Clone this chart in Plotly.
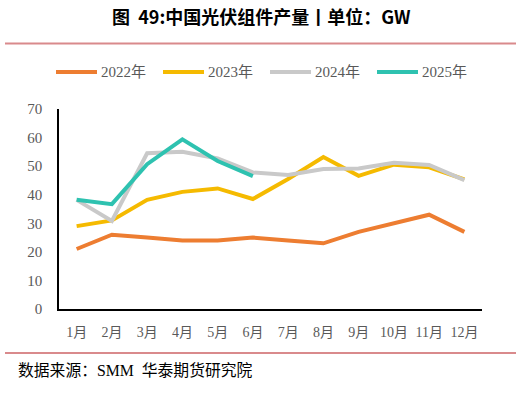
import plotly.graph_objects as go

months = ["1月", "2月", "3月", "4月", "5月", "6月", "7月", "8月", "9月", "10月", "11月", "12月"]
series_names = ["2022年", "2023年", "2024年", "2025年"]
v2022 = [21, 26, 25, 24, 24, 25, 24, 23, 27, 30, 33, 27]
v2023 = [29, 31, 38.2, 41, 42.2, 38.5, 45.5, 53.2, 46.6, 50.5, 49.6, 45.4]
v2024 = [38.2, 30.8, 54.5, 55, 52.7, 47.8, 46.9, 49, 49.2, 51.2, 50.4, 45.1]
v2025 = [38.2, 36.7, 50.7, 59.4, 51.8, 46.5]
colors = ["#ED7D31", "#F5BA00", "#C9C9C9", "#2EC2B0"]
y_ticks = [0, 10, 20, 30, 40, 50, 60, 70]

W, H = 521, 394
L, R, T, B = 59, 39, 109, 85

fig = go.Figure()
for name, vals, c in zip(series_names, [v2022, v2023, v2024, v2025], colors):
    fig.add_trace(go.Scatter(x=months[:len(vals)], y=vals, mode="lines", name=name,
                             line=dict(color=c, width=4), showlegend=False))

x_font = dict(family="Liberation Serif, Noto Sans CJK SC", size=14, color="#595959")
y_font = dict(family="Liberation Serif, Noto Sans CJK SC", size=15, color="#595959")
fig.update_layout(
    width=W, height=H,
    margin=dict(l=L, r=R, t=T, b=B),
    plot_bgcolor="white", paper_bgcolor="white",
    xaxis=dict(range=[-0.5, 11.5], showline=True, linecolor="black", linewidth=1.5, showgrid=False,
               ticks="", tickfont=x_font, ticklabelstandoff=9, fixedrange=True),
    yaxis=dict(range=[0, 70], tickvals=y_ticks, showline=True, linecolor="black", linewidth=1.5,
               showgrid=False, zeroline=False, ticks="", tickfont=y_font,
               ticklabelstandoff=12, fixedrange=True),
)

def px_x(p):
    return (p - L) / (W - L - R)

def px_y(p):
    return (H - B - p) / (H - T - B)

shapes = []
annotations = []
# title
annotations.append(dict(text="<b>图  49:中国光伏组件产量丨单位：GW</b>", x=px_x(261), y=px_y(16),
                        xref="paper", yref="paper", showarrow=False, xanchor="center", yanchor="middle",
                        font=dict(family="Noto Sans CJK SC", size=18, color="black")))
# red rules
for yy in [43.5, 353]:
    shapes.append(dict(type="line", xref="paper", yref="paper", x0=px_x(5), x1=px_x(516),
                       y0=px_y(yy), y1=px_y(yy), line=dict(color="#D98A8C", width=2)))
# legend
leg_x = [56, 163, 270, 377]
for name, c, x0 in zip(series_names, colors, leg_x):
    shapes.append(dict(type="line", xref="paper", yref="paper", x0=px_x(x0), x1=px_x(x0 + 41),
                       y0=px_y(72), y1=px_y(72), line=dict(color=c, width=4)))
    annotations.append(dict(text=name, x=px_x(x0 + 43), y=px_y(72), xref="paper", yref="paper",
                            showarrow=False, xanchor="left", yanchor="middle",
                            font=dict(family="Liberation Serif, Noto Sans CJK SC", size=15, color="#595959")))
# source
annotations.append(dict(text="数据来源：SMM  华泰期货研究院", x=px_x(16), y=px_y(370), xref="paper", yref="paper",
                        showarrow=False, xanchor="left", yanchor="middle",
                        font=dict(family="Liberation Serif, Noto Sans CJK SC", size=15.8, color="black")))
fig.update_layout(shapes=shapes, annotations=annotations)

fig.write_html("out.html", config={"responsive": False, "displayModeBar": False},
               post_script="document.body.style.margin='0';")
